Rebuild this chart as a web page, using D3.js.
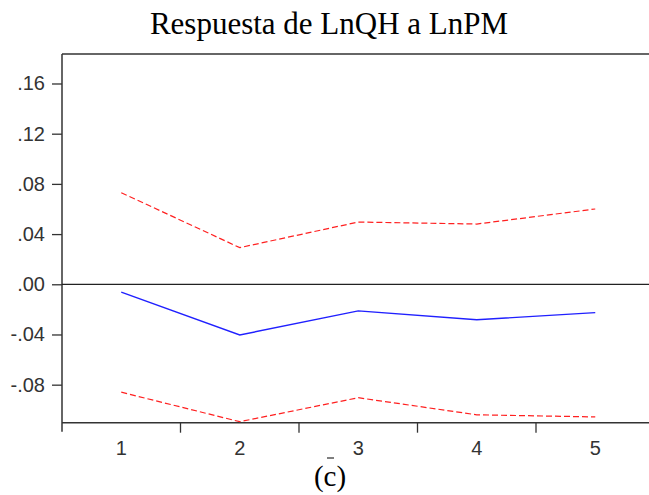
<!DOCTYPE html>
<html>
<head>
<meta charset="utf-8">
<script src="https://cdn.jsdelivr.net/npm/d3@7"></script>
<style>
  body { margin: 0; background: #fff; }
  svg { display: block; }
</style>
</head>
<body>
<svg id="chart" width="649" height="495"></svg>
<script>
// periods and impulse response values
var periods = [1, 2, 3, 4, 5];
var response = [-0.0062, -0.0404, -0.0212, -0.0283, -0.0226];
var upperBand = [0.0730, 0.0292, 0.0496, 0.0480, 0.0600];
var lowerBand = [-0.0860, -0.1095, -0.0904, -0.1040, -0.1057];
var yTicks = [-0.08, -0.04, 0, 0.04, 0.08, 0.12, 0.16];

var svg = d3.select("#chart");
var plotL = 62, plotR = 654.5, plotT = 54, plotB = 422.7;

var x = d3.scaleBand().domain(periods).range([plotL, plotR]).padding(0);
var y = d3.scaleLinear().domain([-0.1103, 0.1835]).range([plotB, plotT]);

var fmt = function(d){
  if (d === 0) return ".00";
  var s = d3.format(".2f")(Math.abs(d)).replace(/^0/, "");
  return (d < 0 ? "-" : "") + s;
};

// title
svg.append("text")
  .attr("x", 329).attr("y", 34)
  .attr("text-anchor", "middle")
  .style("font-family", "'Liberation Serif', 'Times New Roman', serif")
  .style("font-size", "31px")
  .text("Respuesta de LnQH a LnPM");

// frame top line
svg.append("line")
  .attr("x1", plotL).attr("x2", 649).attr("y1", plotT).attr("y2", plotT)
  .style("stroke", "#333").style("stroke-width", 1.5);

// y axis
var yAxis = d3.axisLeft(y).tickValues(yTicks).tickFormat(fmt).tickSize(10).tickPadding(7);
var gy = svg.append("g").attr("transform", "translate(" + plotL + ",0)").call(yAxis);
gy.select(".domain").remove();
gy.append("line").attr("x1", 0).attr("x2", 0).attr("y1", plotT).attr("y2", plotB + 9)
  .style("stroke", "#333").style("stroke-width", 1.5);
gy.selectAll(".tick line").style("stroke", "#333").style("stroke-width", 1.3);
gy.selectAll(".tick text")
  .style("font-family", "Arial, 'Liberation Sans', sans-serif")
  .style("font-size", "20px").style("fill", "#333");

// x axis (ticks at category boundaries)
var gx = svg.append("g").attr("transform", "translate(0," + plotB + ")");
gx.append("line").attr("x1", plotL).attr("x2", 649).attr("y1", 0).attr("y2", 0)
  .style("stroke", "#333").style("stroke-width", 1.5);
gx.selectAll(".bt").data(periods.slice(1)).enter().append("line")
  .attr("x1", function(d){ return x(d); }).attr("x2", function(d){ return x(d); })
  .attr("y1", 0).attr("y2", 10)
  .style("stroke", "#333").style("stroke-width", 1.3);
gx.selectAll(".lab").data(periods).enter().append("text")
  .attr("x", function(d){ return x(d) + x.bandwidth() / 2; })
  .attr("y", 32)
  .attr("text-anchor", "middle")
  .style("font-family", "Arial, 'Liberation Sans', sans-serif")
  .style("font-size", "20px").style("fill", "#333")
  .text(function(d){ return d; });

// zero line
svg.append("line")
  .attr("x1", plotL).attr("x2", 649).attr("y1", y(0)).attr("y2", y(0))
  .style("stroke", "#222").style("stroke-width", 1.2);

var line = function(vals){
  return d3.line()
    .x(function(d, i){ return x(periods[i]) + x.bandwidth() / 2; })
    .y(function(d){ return y(d); })(vals);
};

svg.append("path").attr("d", line(upperBand))
  .style("fill", "none").style("stroke", "#ff2020").style("stroke-width", 1.2)
  .style("stroke-dasharray", "6,3");
svg.append("path").attr("d", line(lowerBand))
  .style("fill", "none").style("stroke", "#ff2020").style("stroke-width", 1.2)
  .style("stroke-dasharray", "6,3");
svg.append("path").attr("d", line(response))
  .style("fill", "none").style("stroke", "#2020ff").style("stroke-width", 1.4);

// small mark and caption under the chart
svg.append("line").attr("x1", 327).attr("x2", 334).attr("y1", 458).attr("y2", 458)
  .style("stroke", "#555").style("stroke-width", 1.5);
svg.append("text")
  .attr("x", 330).attr("y", 486)
  .attr("text-anchor", "middle")
  .style("font-family", "'Liberation Serif', 'Times New Roman', serif")
  .style("font-size", "29px")
  .text("(c)");
</script>
</body>
</html>
